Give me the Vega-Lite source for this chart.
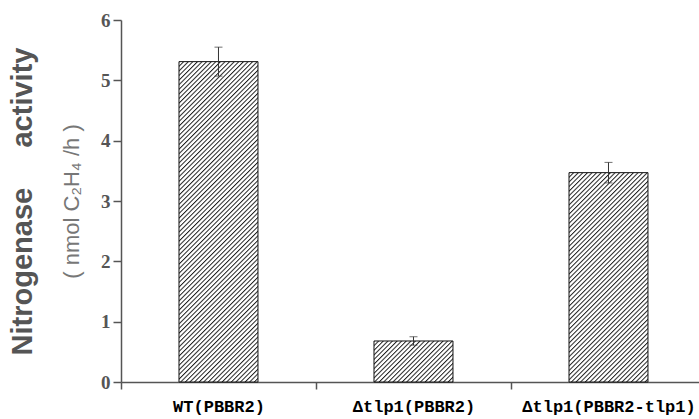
{
"$schema":"https://vega.github.io/schema/vega-lite/v6.json",
"width":578,"height":362,
"autosize":{"type":"none"},
"padding":{"left":121,"top":20,"right":0,"bottom":37},
"background":"white",
"config":{"view":{"stroke":null}},
"data":{"values":[
{"g":"WT(PBBR2)","v":5.31,"e":0.24},
{"g":"Δtlp1(PBBR2)","v":0.68,"e":0.07},
{"g":"Δtlp1(PBBR2-tlp1)","v":3.47,"e":0.17}
]},
"layer":[
{"mark":{"type":"bar","stroke":"#111","strokeWidth":1},
"encoding":{
"x":{"field":"g","type":"nominal","sort":null,"scale":{"paddingInner":0.595,"paddingOuter":0.2795,"align":0.532},
"axis":{"title":null,"labelAngle":0,"bandPosition":0,"tickOffset":-58,"labelOffset":58,"tickSize":7,"tickColor":"#555","tickWidth":1.5,"domainColor":"#555","domainWidth":1.5,"labelFont":"Liberation Mono","labelFontWeight":"bold","labelFontSize":17,"labelColor":"#000","labelPadding":9}},
"y":{"field":"v","type":"quantitative","scale":{"domain":[0,6],"nice":false},
"axis":{"orient":"left","title":"(\u00a0nmol C₂H₄ /h\u00a0)","values":[0,1,2,3,4,5,6],"grid":false,"tickSize":8,"tickColor":"#555","tickWidth":1.5,"domainColor":"#555","domainWidth":1.5,"labelFont":"Liberation Serif","labelFontWeight":"bold","labelFontSize":19,"labelColor":"#555","labelPadding":3,"titleFont":"Liberation Sans","titleFontSize":22,"titleFontWeight":"normal","titleColor":"#777","titlePadding":17}},
"fill":{"condition":[
{"test":"datum.g==='WT(PBBR2)'","value":{"gradient":"linear","x1":0,"y1":0,"x2":0.3337,"y2":1.3534,"stops":[
{"offset":0.00,"color":"#222"},{"offset":0.0035,"color":"#fff"},{"offset":0.0075,"color":"#fff"},
{"offset":0.01,"color":"#222"},{"offset":0.0135,"color":"#fff"},{"offset":0.0175,"color":"#fff"},
{"offset":0.02,"color":"#222"},{"offset":0.0235,"color":"#fff"},{"offset":0.0275,"color":"#fff"},
{"offset":0.03,"color":"#222"},{"offset":0.0335,"color":"#fff"},{"offset":0.0375,"color":"#fff"},
{"offset":0.04,"color":"#222"},{"offset":0.0435,"color":"#fff"},{"offset":0.0475,"color":"#fff"},
{"offset":0.05,"color":"#222"},{"offset":0.0535,"color":"#fff"},{"offset":0.0575,"color":"#fff"},
{"offset":0.06,"color":"#222"},{"offset":0.0635,"color":"#fff"},{"offset":0.0675,"color":"#fff"},
{"offset":0.07,"color":"#222"},{"offset":0.0735,"color":"#fff"},{"offset":0.0775,"color":"#fff"},
{"offset":0.08,"color":"#222"},{"offset":0.0835,"color":"#fff"},{"offset":0.0875,"color":"#fff"},
{"offset":0.09,"color":"#222"},{"offset":0.0935,"color":"#fff"},{"offset":0.0975,"color":"#fff"},
{"offset":0.10,"color":"#222"},{"offset":0.1035,"color":"#fff"},{"offset":0.1075,"color":"#fff"},
{"offset":0.11,"color":"#222"},{"offset":0.1135,"color":"#fff"},{"offset":0.1175,"color":"#fff"},
{"offset":0.12,"color":"#222"},{"offset":0.1235,"color":"#fff"},{"offset":0.1275,"color":"#fff"},
{"offset":0.13,"color":"#222"},{"offset":0.1335,"color":"#fff"},{"offset":0.1375,"color":"#fff"},
{"offset":0.14,"color":"#222"},{"offset":0.1435,"color":"#fff"},{"offset":0.1475,"color":"#fff"},
{"offset":0.15,"color":"#222"},{"offset":0.1535,"color":"#fff"},{"offset":0.1575,"color":"#fff"},
{"offset":0.16,"color":"#222"},{"offset":0.1635,"color":"#fff"},{"offset":0.1675,"color":"#fff"},
{"offset":0.17,"color":"#222"},{"offset":0.1735,"color":"#fff"},{"offset":0.1775,"color":"#fff"},
{"offset":0.18,"color":"#222"},{"offset":0.1835,"color":"#fff"},{"offset":0.1875,"color":"#fff"},
{"offset":0.19,"color":"#222"},{"offset":0.1935,"color":"#fff"},{"offset":0.1975,"color":"#fff"},
{"offset":0.20,"color":"#222"},{"offset":0.2035,"color":"#fff"},{"offset":0.2075,"color":"#fff"},
{"offset":0.21,"color":"#222"},{"offset":0.2135,"color":"#fff"},{"offset":0.2175,"color":"#fff"},
{"offset":0.22,"color":"#222"},{"offset":0.2235,"color":"#fff"},{"offset":0.2275,"color":"#fff"},
{"offset":0.23,"color":"#222"},{"offset":0.2335,"color":"#fff"},{"offset":0.2375,"color":"#fff"},
{"offset":0.24,"color":"#222"},{"offset":0.2435,"color":"#fff"},{"offset":0.2475,"color":"#fff"},
{"offset":0.25,"color":"#222"},{"offset":0.2535,"color":"#fff"},{"offset":0.2575,"color":"#fff"},
{"offset":0.26,"color":"#222"},{"offset":0.2635,"color":"#fff"},{"offset":0.2675,"color":"#fff"},
{"offset":0.27,"color":"#222"},{"offset":0.2735,"color":"#fff"},{"offset":0.2775,"color":"#fff"},
{"offset":0.28,"color":"#222"},{"offset":0.2835,"color":"#fff"},{"offset":0.2875,"color":"#fff"},
{"offset":0.29,"color":"#222"},{"offset":0.2935,"color":"#fff"},{"offset":0.2975,"color":"#fff"},
{"offset":0.30,"color":"#222"},{"offset":0.3035,"color":"#fff"},{"offset":0.3075,"color":"#fff"},
{"offset":0.31,"color":"#222"},{"offset":0.3135,"color":"#fff"},{"offset":0.3175,"color":"#fff"},
{"offset":0.32,"color":"#222"},{"offset":0.3235,"color":"#fff"},{"offset":0.3275,"color":"#fff"},
{"offset":0.33,"color":"#222"},{"offset":0.3335,"color":"#fff"},{"offset":0.3375,"color":"#fff"},
{"offset":0.34,"color":"#222"},{"offset":0.3435,"color":"#fff"},{"offset":0.3475,"color":"#fff"},
{"offset":0.35,"color":"#222"},{"offset":0.3535,"color":"#fff"},{"offset":0.3575,"color":"#fff"},
{"offset":0.36,"color":"#222"},{"offset":0.3635,"color":"#fff"},{"offset":0.3675,"color":"#fff"},
{"offset":0.37,"color":"#222"},{"offset":0.3735,"color":"#fff"},{"offset":0.3775,"color":"#fff"},
{"offset":0.38,"color":"#222"},{"offset":0.3835,"color":"#fff"},{"offset":0.3875,"color":"#fff"},
{"offset":0.39,"color":"#222"},{"offset":0.3935,"color":"#fff"},{"offset":0.3975,"color":"#fff"},
{"offset":0.40,"color":"#222"},{"offset":0.4035,"color":"#fff"},{"offset":0.4075,"color":"#fff"},
{"offset":0.41,"color":"#222"},{"offset":0.4135,"color":"#fff"},{"offset":0.4175,"color":"#fff"},
{"offset":0.42,"color":"#222"},{"offset":0.4235,"color":"#fff"},{"offset":0.4275,"color":"#fff"},
{"offset":0.43,"color":"#222"},{"offset":0.4335,"color":"#fff"},{"offset":0.4375,"color":"#fff"},
{"offset":0.44,"color":"#222"},{"offset":0.4435,"color":"#fff"},{"offset":0.4475,"color":"#fff"},
{"offset":0.45,"color":"#222"},{"offset":0.4535,"color":"#fff"},{"offset":0.4575,"color":"#fff"},
{"offset":0.46,"color":"#222"},{"offset":0.4635,"color":"#fff"},{"offset":0.4675,"color":"#fff"},
{"offset":0.47,"color":"#222"},{"offset":0.4735,"color":"#fff"},{"offset":0.4775,"color":"#fff"},
{"offset":0.48,"color":"#222"},{"offset":0.4835,"color":"#fff"},{"offset":0.4875,"color":"#fff"},
{"offset":0.49,"color":"#222"},{"offset":0.4935,"color":"#fff"},{"offset":0.4975,"color":"#fff"},
{"offset":0.50,"color":"#222"},{"offset":0.5035,"color":"#fff"},{"offset":0.5075,"color":"#fff"},
{"offset":0.51,"color":"#222"},{"offset":0.5135,"color":"#fff"},{"offset":0.5175,"color":"#fff"},
{"offset":0.52,"color":"#222"},{"offset":0.5235,"color":"#fff"},{"offset":0.5275,"color":"#fff"},
{"offset":0.53,"color":"#222"},{"offset":0.5335,"color":"#fff"},{"offset":0.5375,"color":"#fff"},
{"offset":0.54,"color":"#222"},{"offset":0.5435,"color":"#fff"},{"offset":0.5475,"color":"#fff"},
{"offset":0.55,"color":"#222"},{"offset":0.5535,"color":"#fff"},{"offset":0.5575,"color":"#fff"},
{"offset":0.56,"color":"#222"},{"offset":0.5635,"color":"#fff"},{"offset":0.5675,"color":"#fff"},
{"offset":0.57,"color":"#222"},{"offset":0.5735,"color":"#fff"},{"offset":0.5775,"color":"#fff"},
{"offset":0.58,"color":"#222"},{"offset":0.5835,"color":"#fff"},{"offset":0.5875,"color":"#fff"},
{"offset":0.59,"color":"#222"},{"offset":0.5935,"color":"#fff"},{"offset":0.5975,"color":"#fff"},
{"offset":0.60,"color":"#222"},{"offset":0.6035,"color":"#fff"},{"offset":0.6075,"color":"#fff"},
{"offset":0.61,"color":"#222"},{"offset":0.6135,"color":"#fff"},{"offset":0.6175,"color":"#fff"},
{"offset":0.62,"color":"#222"},{"offset":0.6235,"color":"#fff"},{"offset":0.6275,"color":"#fff"},
{"offset":0.63,"color":"#222"},{"offset":0.6335,"color":"#fff"},{"offset":0.6375,"color":"#fff"},
{"offset":0.64,"color":"#222"},{"offset":0.6435,"color":"#fff"},{"offset":0.6475,"color":"#fff"},
{"offset":0.65,"color":"#222"},{"offset":0.6535,"color":"#fff"},{"offset":0.6575,"color":"#fff"},
{"offset":0.66,"color":"#222"},{"offset":0.6635,"color":"#fff"},{"offset":0.6675,"color":"#fff"},
{"offset":0.67,"color":"#222"},{"offset":0.6735,"color":"#fff"},{"offset":0.6775,"color":"#fff"},
{"offset":0.68,"color":"#222"},{"offset":0.6835,"color":"#fff"},{"offset":0.6875,"color":"#fff"},
{"offset":0.69,"color":"#222"},{"offset":0.6935,"color":"#fff"},{"offset":0.6975,"color":"#fff"},
{"offset":0.70,"color":"#222"},{"offset":0.7035,"color":"#fff"},{"offset":0.7075,"color":"#fff"},
{"offset":0.71,"color":"#222"},{"offset":0.7135,"color":"#fff"},{"offset":0.7175,"color":"#fff"},
{"offset":0.72,"color":"#222"},{"offset":0.7235,"color":"#fff"},{"offset":0.7275,"color":"#fff"},
{"offset":0.73,"color":"#222"},{"offset":0.7335,"color":"#fff"},{"offset":0.7375,"color":"#fff"},
{"offset":0.74,"color":"#222"},{"offset":0.7435,"color":"#fff"},{"offset":0.7475,"color":"#fff"},
{"offset":0.75,"color":"#222"},{"offset":0.7535,"color":"#fff"},{"offset":0.7575,"color":"#fff"},
{"offset":0.76,"color":"#222"},{"offset":0.7635,"color":"#fff"},{"offset":0.7675,"color":"#fff"},
{"offset":0.77,"color":"#222"},{"offset":0.7735,"color":"#fff"},{"offset":0.7775,"color":"#fff"},
{"offset":0.78,"color":"#222"},{"offset":0.7835,"color":"#fff"},{"offset":0.7875,"color":"#fff"},
{"offset":0.79,"color":"#222"},{"offset":0.7935,"color":"#fff"},{"offset":0.7975,"color":"#fff"},
{"offset":0.80,"color":"#222"},{"offset":0.8035,"color":"#fff"},{"offset":0.8075,"color":"#fff"},
{"offset":0.81,"color":"#222"},{"offset":0.8135,"color":"#fff"},{"offset":0.8175,"color":"#fff"},
{"offset":0.82,"color":"#222"},{"offset":0.8235,"color":"#fff"},{"offset":0.8275,"color":"#fff"},
{"offset":0.83,"color":"#222"},{"offset":0.8335,"color":"#fff"},{"offset":0.8375,"color":"#fff"},
{"offset":0.84,"color":"#222"},{"offset":0.8435,"color":"#fff"},{"offset":0.8475,"color":"#fff"},
{"offset":0.85,"color":"#222"},{"offset":0.8535,"color":"#fff"},{"offset":0.8575,"color":"#fff"},
{"offset":0.86,"color":"#222"},{"offset":0.8635,"color":"#fff"},{"offset":0.8675,"color":"#fff"},
{"offset":0.87,"color":"#222"},{"offset":0.8735,"color":"#fff"}
]}},
{"test":"datum.g==='Δtlp1(PBBR2)'","value":{"gradient":"linear","x1":0,"y1":0,"x2":4.5872,"y2":2.3807,"stops":[
{"offset":0.00,"color":"#222"},{"offset":0.0035,"color":"#fff"},{"offset":0.0075,"color":"#fff"},
{"offset":0.01,"color":"#222"},{"offset":0.0135,"color":"#fff"},{"offset":0.0175,"color":"#fff"},
{"offset":0.02,"color":"#222"},{"offset":0.0235,"color":"#fff"},{"offset":0.0275,"color":"#fff"},
{"offset":0.03,"color":"#222"},{"offset":0.0335,"color":"#fff"},{"offset":0.0375,"color":"#fff"},
{"offset":0.04,"color":"#222"},{"offset":0.0435,"color":"#fff"},{"offset":0.0475,"color":"#fff"},
{"offset":0.05,"color":"#222"},{"offset":0.0535,"color":"#fff"},{"offset":0.0575,"color":"#fff"},
{"offset":0.06,"color":"#222"},{"offset":0.0635,"color":"#fff"},{"offset":0.0675,"color":"#fff"},
{"offset":0.07,"color":"#222"},{"offset":0.0735,"color":"#fff"},{"offset":0.0775,"color":"#fff"},
{"offset":0.08,"color":"#222"},{"offset":0.0835,"color":"#fff"},{"offset":0.0875,"color":"#fff"},
{"offset":0.09,"color":"#222"},{"offset":0.0935,"color":"#fff"},{"offset":0.0975,"color":"#fff"},
{"offset":0.10,"color":"#222"},{"offset":0.1035,"color":"#fff"},{"offset":0.1075,"color":"#fff"},
{"offset":0.11,"color":"#222"},{"offset":0.1135,"color":"#fff"},{"offset":0.1175,"color":"#fff"},
{"offset":0.12,"color":"#222"},{"offset":0.1235,"color":"#fff"},{"offset":0.1275,"color":"#fff"},
{"offset":0.13,"color":"#222"},{"offset":0.1335,"color":"#fff"},{"offset":0.1375,"color":"#fff"},
{"offset":0.14,"color":"#222"},{"offset":0.1435,"color":"#fff"},{"offset":0.1475,"color":"#fff"},
{"offset":0.15,"color":"#222"},{"offset":0.1535,"color":"#fff"},{"offset":0.1575,"color":"#fff"},
{"offset":0.16,"color":"#222"},{"offset":0.1635,"color":"#fff"},{"offset":0.1675,"color":"#fff"},
{"offset":0.17,"color":"#222"},{"offset":0.1735,"color":"#fff"},{"offset":0.1775,"color":"#fff"},
{"offset":0.18,"color":"#222"},{"offset":0.1835,"color":"#fff"},{"offset":0.1875,"color":"#fff"},
{"offset":0.19,"color":"#222"},{"offset":0.1935,"color":"#fff"},{"offset":0.1975,"color":"#fff"},
{"offset":0.20,"color":"#222"},{"offset":0.2035,"color":"#fff"},{"offset":0.2075,"color":"#fff"},
{"offset":0.21,"color":"#222"},{"offset":0.2135,"color":"#fff"},{"offset":0.2175,"color":"#fff"},
{"offset":0.22,"color":"#222"},{"offset":0.2235,"color":"#fff"},{"offset":0.2275,"color":"#fff"},
{"offset":0.23,"color":"#222"},{"offset":0.2335,"color":"#fff"},{"offset":0.2375,"color":"#fff"},
{"offset":0.24,"color":"#222"},{"offset":0.2435,"color":"#fff"},{"offset":0.2475,"color":"#fff"},
{"offset":0.25,"color":"#222"},{"offset":0.2535,"color":"#fff"},{"offset":0.2575,"color":"#fff"},
{"offset":0.26,"color":"#222"},{"offset":0.2635,"color":"#fff"}
]}}],
"value":{"gradient":"linear","x1":0,"y1":0,"x2":0.7261,"y2":1.9237,"stops":[
{"offset":0.00,"color":"#222"},{"offset":0.0035,"color":"#fff"},{"offset":0.0075,"color":"#fff"},
{"offset":0.01,"color":"#222"},{"offset":0.0135,"color":"#fff"},{"offset":0.0175,"color":"#fff"},
{"offset":0.02,"color":"#222"},{"offset":0.0235,"color":"#fff"},{"offset":0.0275,"color":"#fff"},
{"offset":0.03,"color":"#222"},{"offset":0.0335,"color":"#fff"},{"offset":0.0375,"color":"#fff"},
{"offset":0.04,"color":"#222"},{"offset":0.0435,"color":"#fff"},{"offset":0.0475,"color":"#fff"},
{"offset":0.05,"color":"#222"},{"offset":0.0535,"color":"#fff"},{"offset":0.0575,"color":"#fff"},
{"offset":0.06,"color":"#222"},{"offset":0.0635,"color":"#fff"},{"offset":0.0675,"color":"#fff"},
{"offset":0.07,"color":"#222"},{"offset":0.0735,"color":"#fff"},{"offset":0.0775,"color":"#fff"},
{"offset":0.08,"color":"#222"},{"offset":0.0835,"color":"#fff"},{"offset":0.0875,"color":"#fff"},
{"offset":0.09,"color":"#222"},{"offset":0.0935,"color":"#fff"},{"offset":0.0975,"color":"#fff"},
{"offset":0.10,"color":"#222"},{"offset":0.1035,"color":"#fff"},{"offset":0.1075,"color":"#fff"},
{"offset":0.11,"color":"#222"},{"offset":0.1135,"color":"#fff"},{"offset":0.1175,"color":"#fff"},
{"offset":0.12,"color":"#222"},{"offset":0.1235,"color":"#fff"},{"offset":0.1275,"color":"#fff"},
{"offset":0.13,"color":"#222"},{"offset":0.1335,"color":"#fff"},{"offset":0.1375,"color":"#fff"},
{"offset":0.14,"color":"#222"},{"offset":0.1435,"color":"#fff"},{"offset":0.1475,"color":"#fff"},
{"offset":0.15,"color":"#222"},{"offset":0.1535,"color":"#fff"},{"offset":0.1575,"color":"#fff"},
{"offset":0.16,"color":"#222"},{"offset":0.1635,"color":"#fff"},{"offset":0.1675,"color":"#fff"},
{"offset":0.17,"color":"#222"},{"offset":0.1735,"color":"#fff"},{"offset":0.1775,"color":"#fff"},
{"offset":0.18,"color":"#222"},{"offset":0.1835,"color":"#fff"},{"offset":0.1875,"color":"#fff"},
{"offset":0.19,"color":"#222"},{"offset":0.1935,"color":"#fff"},{"offset":0.1975,"color":"#fff"},
{"offset":0.20,"color":"#222"},{"offset":0.2035,"color":"#fff"},{"offset":0.2075,"color":"#fff"},
{"offset":0.21,"color":"#222"},{"offset":0.2135,"color":"#fff"},{"offset":0.2175,"color":"#fff"},
{"offset":0.22,"color":"#222"},{"offset":0.2235,"color":"#fff"},{"offset":0.2275,"color":"#fff"},
{"offset":0.23,"color":"#222"},{"offset":0.2335,"color":"#fff"},{"offset":0.2375,"color":"#fff"},
{"offset":0.24,"color":"#222"},{"offset":0.2435,"color":"#fff"},{"offset":0.2475,"color":"#fff"},
{"offset":0.25,"color":"#222"},{"offset":0.2535,"color":"#fff"},{"offset":0.2575,"color":"#fff"},
{"offset":0.26,"color":"#222"},{"offset":0.2635,"color":"#fff"},{"offset":0.2675,"color":"#fff"},
{"offset":0.27,"color":"#222"},{"offset":0.2735,"color":"#fff"},{"offset":0.2775,"color":"#fff"},
{"offset":0.28,"color":"#222"},{"offset":0.2835,"color":"#fff"},{"offset":0.2875,"color":"#fff"},
{"offset":0.29,"color":"#222"},{"offset":0.2935,"color":"#fff"},{"offset":0.2975,"color":"#fff"},
{"offset":0.30,"color":"#222"},{"offset":0.3035,"color":"#fff"},{"offset":0.3075,"color":"#fff"},
{"offset":0.31,"color":"#222"},{"offset":0.3135,"color":"#fff"},{"offset":0.3175,"color":"#fff"},
{"offset":0.32,"color":"#222"},{"offset":0.3235,"color":"#fff"},{"offset":0.3275,"color":"#fff"},
{"offset":0.33,"color":"#222"},{"offset":0.3335,"color":"#fff"},{"offset":0.3375,"color":"#fff"},
{"offset":0.34,"color":"#222"},{"offset":0.3435,"color":"#fff"},{"offset":0.3475,"color":"#fff"},
{"offset":0.35,"color":"#222"},{"offset":0.3535,"color":"#fff"},{"offset":0.3575,"color":"#fff"},
{"offset":0.36,"color":"#222"},{"offset":0.3635,"color":"#fff"},{"offset":0.3675,"color":"#fff"},
{"offset":0.37,"color":"#222"},{"offset":0.3735,"color":"#fff"},{"offset":0.3775,"color":"#fff"},
{"offset":0.38,"color":"#222"},{"offset":0.3835,"color":"#fff"},{"offset":0.3875,"color":"#fff"},
{"offset":0.39,"color":"#222"},{"offset":0.3935,"color":"#fff"},{"offset":0.3975,"color":"#fff"},
{"offset":0.40,"color":"#222"},{"offset":0.4035,"color":"#fff"},{"offset":0.4075,"color":"#fff"},
{"offset":0.41,"color":"#222"},{"offset":0.4135,"color":"#fff"},{"offset":0.4175,"color":"#fff"},
{"offset":0.42,"color":"#222"},{"offset":0.4235,"color":"#fff"},{"offset":0.4275,"color":"#fff"},
{"offset":0.43,"color":"#222"},{"offset":0.4335,"color":"#fff"},{"offset":0.4375,"color":"#fff"},
{"offset":0.44,"color":"#222"},{"offset":0.4435,"color":"#fff"},{"offset":0.4475,"color":"#fff"},
{"offset":0.45,"color":"#222"},{"offset":0.4535,"color":"#fff"},{"offset":0.4575,"color":"#fff"},
{"offset":0.46,"color":"#222"},{"offset":0.4635,"color":"#fff"},{"offset":0.4675,"color":"#fff"},
{"offset":0.47,"color":"#222"},{"offset":0.4735,"color":"#fff"},{"offset":0.4775,"color":"#fff"},
{"offset":0.48,"color":"#222"},{"offset":0.4835,"color":"#fff"},{"offset":0.4875,"color":"#fff"},
{"offset":0.49,"color":"#222"},{"offset":0.4935,"color":"#fff"},{"offset":0.4975,"color":"#fff"},
{"offset":0.50,"color":"#222"},{"offset":0.5035,"color":"#fff"},{"offset":0.5075,"color":"#fff"},
{"offset":0.51,"color":"#222"},{"offset":0.5135,"color":"#fff"},{"offset":0.5175,"color":"#fff"},
{"offset":0.52,"color":"#222"},{"offset":0.5235,"color":"#fff"},{"offset":0.5275,"color":"#fff"},
{"offset":0.53,"color":"#222"},{"offset":0.5335,"color":"#fff"},{"offset":0.5375,"color":"#fff"},
{"offset":0.54,"color":"#222"},{"offset":0.5435,"color":"#fff"},{"offset":0.5475,"color":"#fff"},
{"offset":0.55,"color":"#222"},{"offset":0.5535,"color":"#fff"},{"offset":0.5575,"color":"#fff"},
{"offset":0.56,"color":"#222"},{"offset":0.5635,"color":"#fff"},{"offset":0.5675,"color":"#fff"},
{"offset":0.57,"color":"#222"},{"offset":0.5735,"color":"#fff"},{"offset":0.5775,"color":"#fff"},
{"offset":0.58,"color":"#222"},{"offset":0.5835,"color":"#fff"},{"offset":0.5875,"color":"#fff"},
{"offset":0.59,"color":"#222"},{"offset":0.5935,"color":"#fff"},{"offset":0.5975,"color":"#fff"},
{"offset":0.60,"color":"#222"},{"offset":0.6035,"color":"#fff"},{"offset":0.6075,"color":"#fff"},
{"offset":0.61,"color":"#222"},{"offset":0.6135,"color":"#fff"},{"offset":0.6175,"color":"#fff"},
{"offset":0.62,"color":"#222"},{"offset":0.6235,"color":"#fff"},{"offset":0.6275,"color":"#fff"},
{"offset":0.63,"color":"#222"},{"offset":0.6335,"color":"#fff"}
]}}
}},
{"mark":{"type":"errorbar","color":"#333","thickness":1,"ticks":{"size":8,"color":"#333","thickness":1}},
"encoding":{
"x":{"field":"g","type":"nominal","sort":null},
"y":{"field":"v","type":"quantitative","scale":{"domain":[0,6],"nice":false},
"axis":{"orient":"left","title":"Nitrogenase\u00a0\u00a0\u00a0\u00a0\u00a0activity","domain":false,"ticks":false,"labels":false,"grid":false,"titleFont":"Liberation Sans","titleFontSize":29,"titleFontWeight":"bold","titleColor":"#555","titlePadding":84}},
"yError":{"field":"e"}}}
],
"resolve":{"axis":{"y":"independent"}}
}
